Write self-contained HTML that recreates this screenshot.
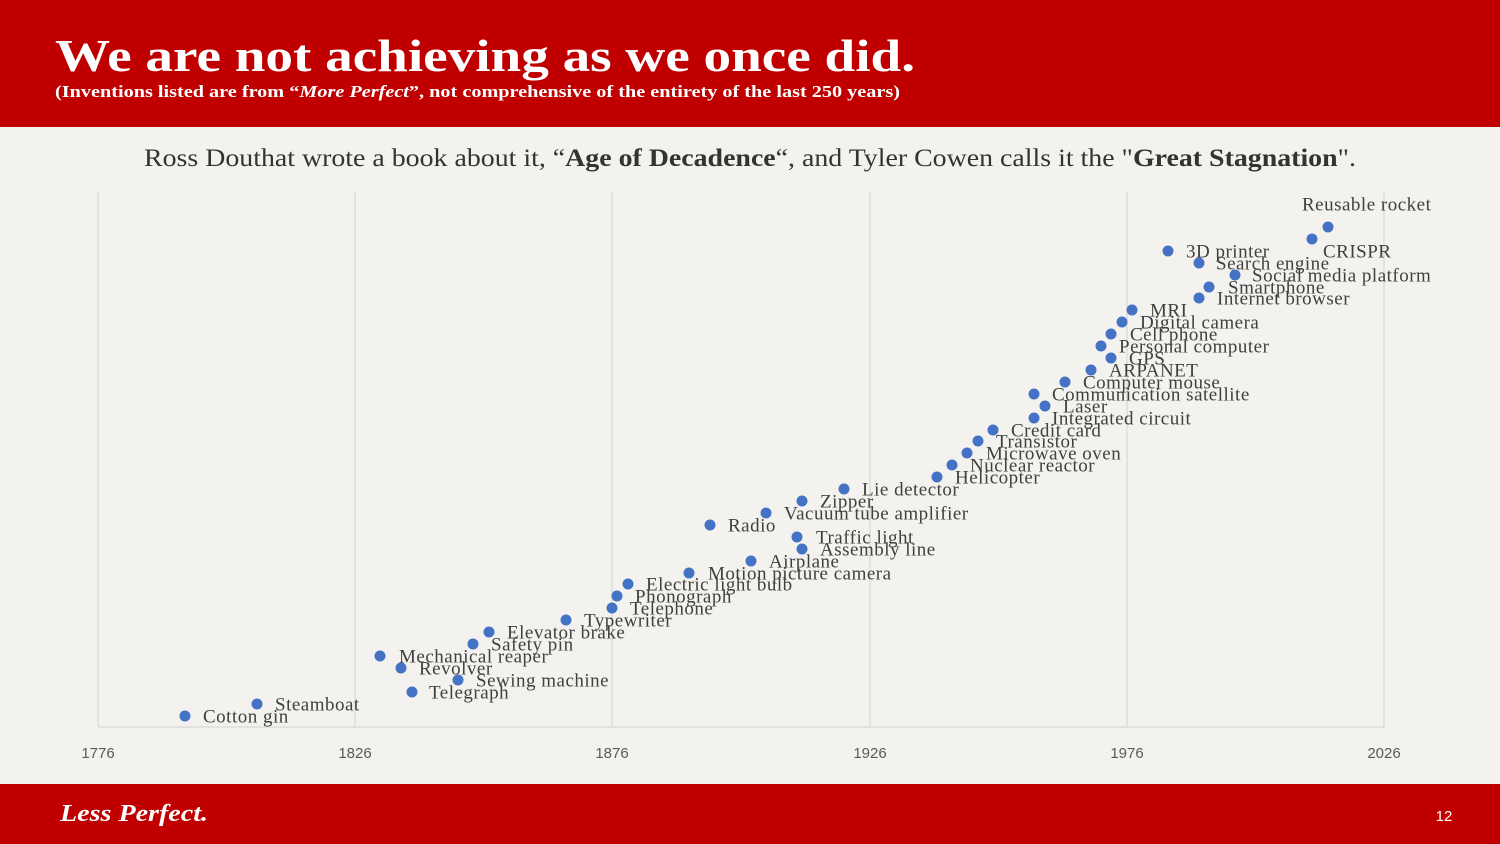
<!DOCTYPE html>
<html><head><meta charset="utf-8"><style>
html,body{margin:0;padding:0;background:#F3F2EE;}
svg{display:block;}
.lbl{font-family:"Liberation Serif",serif;font-size:19px;letter-spacing:0.5px;fill:#404040;dominant-baseline:central;}
.tick{font-family:"Liberation Sans",sans-serif;font-size:15px;fill:#595959;text-anchor:middle;}
</style></head><body>
<svg width="1500" height="844" xmlns="http://www.w3.org/2000/svg">
<rect x="0" y="0" width="1500" height="844" fill="#F3F2EE"/>
<rect x="0" y="0" width="1500" height="127" fill="#C00000"/>
<text x="55" y="71" font-family="Liberation Serif,serif" font-weight="bold" font-size="46" fill="#fff" textLength="860" lengthAdjust="spacingAndGlyphs">We are not achieving as we once did.</text>
<text x="55" y="97" font-family="Liberation Serif,serif" font-weight="bold" font-size="17" fill="#fff" textLength="845" lengthAdjust="spacingAndGlyphs">(Inventions listed are from “<tspan font-style="italic">More Perfect</tspan>”, not comprehensive of the entirety of the last 250 years)</text>
<text x="144" y="166" font-family="Liberation Serif,serif" font-size="25" fill="#333" textLength="1212" lengthAdjust="spacingAndGlyphs">Ross Douthat wrote a book about it, “<tspan font-weight="bold">Age of Decadence</tspan>“, and Tyler Cowen calls it the "<tspan font-weight="bold">Great Stagnation</tspan>".</text>
<g stroke="#D9D9D9" stroke-width="1.3">
<line x1="98" y1="192" x2="98" y2="727"/><line x1="355" y1="192" x2="355" y2="727"/><line x1="612" y1="192" x2="612" y2="727"/><line x1="870" y1="192" x2="870" y2="727"/><line x1="1127" y1="192" x2="1127" y2="727"/><line x1="1384" y1="192" x2="1384" y2="727"/>
<line x1="98" y1="727" x2="1384" y2="727"/>
</g>
<g>
<text class="tick" x="98" y="758">1776</text><text class="tick" x="355" y="758">1826</text><text class="tick" x="612" y="758">1876</text><text class="tick" x="870" y="758">1926</text><text class="tick" x="1127" y="758">1976</text><text class="tick" x="1384" y="758">2026</text>
</g>
<g fill="#4472C4">
<circle cx="185" cy="716" r="5.5"/><circle cx="257" cy="704" r="5.5"/><circle cx="412" cy="692" r="5.5"/><circle cx="458" cy="680" r="5.5"/><circle cx="401" cy="668" r="5.5"/><circle cx="380" cy="656" r="5.5"/><circle cx="473" cy="644" r="5.5"/><circle cx="489" cy="632" r="5.5"/><circle cx="566" cy="620" r="5.5"/><circle cx="612" cy="608" r="5.5"/><circle cx="617" cy="596" r="5.5"/><circle cx="628" cy="584" r="5.5"/><circle cx="689" cy="573" r="5.5"/><circle cx="751" cy="561" r="5.5"/><circle cx="802" cy="549" r="5.5"/><circle cx="797" cy="537" r="5.5"/><circle cx="710" cy="525" r="5.5"/><circle cx="766" cy="513" r="5.5"/><circle cx="802" cy="501" r="5.5"/><circle cx="844" cy="489" r="5.5"/><circle cx="937" cy="477" r="5.5"/><circle cx="952" cy="465" r="5.5"/><circle cx="967" cy="453" r="5.5"/><circle cx="978" cy="441" r="5.5"/><circle cx="993" cy="430" r="5.5"/><circle cx="1034" cy="418" r="5.5"/><circle cx="1045" cy="406" r="5.5"/><circle cx="1034" cy="394" r="5.5"/><circle cx="1065" cy="382" r="5.5"/><circle cx="1091" cy="370" r="5.5"/><circle cx="1111" cy="358" r="5.5"/><circle cx="1101" cy="346" r="5.5"/><circle cx="1111" cy="334" r="5.5"/><circle cx="1122" cy="322" r="5.5"/><circle cx="1132" cy="310" r="5.5"/><circle cx="1199" cy="298" r="5.5"/><circle cx="1209" cy="287" r="5.5"/><circle cx="1235" cy="275" r="5.5"/><circle cx="1199" cy="263" r="5.5"/><circle cx="1168" cy="251" r="5.5"/><circle cx="1312" cy="239" r="5.5"/><circle cx="1328" cy="227" r="5.5"/>
</g>
<g class="lbls">
<text class="lbl" x="203" y="717">Cotton gin</text>
<text class="lbl" x="275" y="705">Steamboat</text>
<text class="lbl" x="429" y="693">Telegraph</text>
<text class="lbl" x="476" y="681">Sewing machine</text>
<text class="lbl" x="419" y="669">Revolver</text>
<text class="lbl" x="399" y="657">Mechanical reaper</text>
<text class="lbl" x="491" y="645">Safety pin</text>
<text class="lbl" x="507" y="633">Elevator brake</text>
<text class="lbl" x="584" y="621">Typewriter</text>
<text class="lbl" x="630" y="609">Telephone</text>
<text class="lbl" x="635" y="597">Phonograph</text>
<text class="lbl" x="646" y="585">Electric light bulb</text>
<text class="lbl" x="708" y="574">Motion picture camera</text>
<text class="lbl" x="769" y="562">Airplane</text>
<text class="lbl" x="820" y="550">Assembly line</text>
<text class="lbl" x="816" y="538">Traffic light</text>
<text class="lbl" x="728" y="526">Radio</text>
<text class="lbl" x="784" y="514">Vacuum tube amplifier</text>
<text class="lbl" x="820" y="502">Zipper</text>
<text class="lbl" x="862" y="490">Lie detector</text>
<text class="lbl" x="955" y="478">Helicopter</text>
<text class="lbl" x="970" y="466">Nuclear reactor</text>
<text class="lbl" x="986" y="454">Microwave oven</text>
<text class="lbl" x="996" y="442">Transistor</text>
<text class="lbl" x="1011" y="431">Credit card</text>
<text class="lbl" x="1052" y="419">Integrated circuit</text>
<text class="lbl" x="1063" y="407">Laser</text>
<text class="lbl" x="1052" y="395">Communication satellite</text>
<text class="lbl" x="1083" y="383">Computer mouse</text>
<text class="lbl" x="1109" y="371">ARPANET</text>
<text class="lbl" x="1129" y="359">GPS</text>
<text class="lbl" x="1119" y="347">Personal computer</text>
<text class="lbl" x="1130" y="335">Cell phone</text>
<text class="lbl" x="1140" y="323">Digital camera</text>
<text class="lbl" x="1150" y="311">MRI</text>
<text class="lbl" x="1217" y="299">Internet browser</text>
<text class="lbl" x="1228" y="288">Smartphone</text>
<text class="lbl" x="1252" y="276">Social media platform</text>
<text class="lbl" x="1216" y="264">Search engine</text>
<text class="lbl" x="1186" y="252">3D printer</text>
<text class="lbl" x="1323" y="252">CRISPR</text>
<text class="lbl" x="1302" y="205">Reusable rocket</text>
</g>
<rect x="0" y="784" width="1500" height="60" fill="#C00000"/>
<text x="60" y="821" font-family="Liberation Serif,serif" font-weight="bold" font-style="italic" font-size="24" fill="#fff" textLength="148" lengthAdjust="spacingAndGlyphs">Less Perfect.</text>
<text x="1444" y="821" font-family="Liberation Sans,sans-serif" font-size="15" fill="#fff" text-anchor="middle">12</text>
</svg>
</body></html>
